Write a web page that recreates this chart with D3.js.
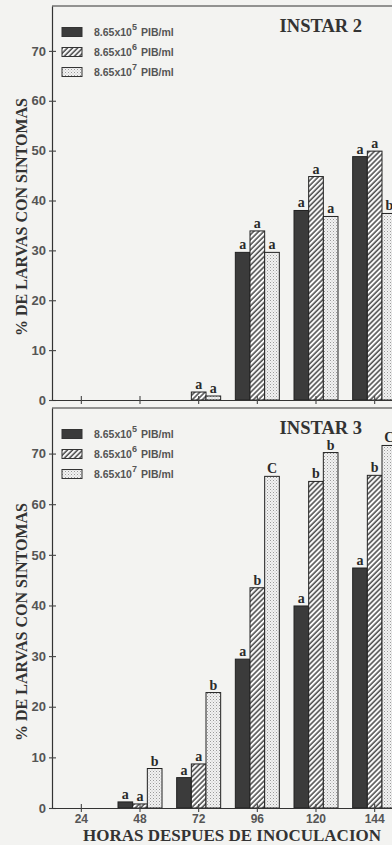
<!DOCTYPE html>
<html lang="es">
<head>
<meta charset="UTF-8">
<title>% de larvas con sintomas - instar 2 y 3</title>
<script src="https://d3js.org/d3.v7.min.js"></script>
<style>
  body { margin: 0; background: #f3f3f1; }
  svg { display: block; }
</style>
</head>
<body>
<svg width="392" height="845"></svg>
<script>
// horas despues de inoculacion
const hours = ["24", "48", "72", "96", "120", "144"];
const doseBase = "8.65x10";
const doseExp = ["5", "6", "7"];
const doseUnit = "PIB/ml";
const yTicks = [0, 10, 20, 30, 40, 50, 60, 70];

// INSTAR 2
const instar2Low = [0, 0, 0, 29.6, 38, 48.8];
const instar2Mid = [0, 0, 1.6, 33.9, 44.8, 49.9];
const instar2High = [0, 0, 0.8, 29.6, 36.8, 37.4];
const instar2LowLetters = ["", "", "", "a", "a", "a"];
const instar2MidLetters = ["", "", "a", "a", "a", "a"];
const instar2HighLetters = ["", "", "a", "a", "a", "b"];

// INSTAR 3
const instar3Low = [0, 1.2, 6, 29.4, 39.9, 47.4];
const instar3Mid = [0, 0.8, 8.7, 43.5, 64.5, 65.7];
const instar3High = [0, 7.8, 22.8, 65.5, 70.2, 71.6];
const instar3LowLetters = ["", "a", "a", "a", "a", "a"];
const instar3MidLetters = ["", "a", "a", "b", "b", "b"];
const instar3HighLetters = ["", "b", "b", "C", "b", "C"];

const svg = d3.select("svg");
const serif = "'Liberation Serif', 'DejaVu Serif', serif";
const sans = "'Liberation Sans', Arial, sans-serif";

// patterns
const defs = svg.append("defs");
defs.append("pattern")
    .attr("id", "hatch")
    .attr("patternUnits", "userSpaceOnUse")
    .attr("width", 3.6).attr("height", 3.6)
    .attr("patternTransform", "rotate(45)")
    .call(p => {
        p.append("rect").attr("width", 3.6).attr("height", 3.6).attr("fill", "#fbfbfb");
        p.append("line").attr("x1", 1).attr("x2", 1).attr("y1", 0).attr("y2", 3.6)
            .attr("stroke", "#2e2e2e").attr("stroke-width", 1.3);
    });
defs.append("pattern")
    .attr("id", "dots")
    .attr("patternUnits", "userSpaceOnUse")
    .attr("width", 3).attr("height", 3)
    .call(p => {
        p.append("rect").attr("width", 3).attr("height", 3).attr("fill", "#f2f2f2");
        p.append("rect").attr("x", 0).attr("y", 0).attr("width", 1).attr("height", 1).attr("fill", "#9a9a9a");
        p.append("rect").attr("x", 1.5).attr("y", 1.5).attr("width", 1).attr("height", 1).attr("fill", "#bdbdbd");
    });

const fills = ["#3b3b3b", "url(#hatch)", "url(#dots)"];

const x0 = d3.scaleBand().domain(hours).range([52, 404]).padding(0);
const groupW = 44;
const x1 = d3.scaleBand().domain(d3.range(3)).range([0, groupW]);

function panel(top, bottom, title, series, letters, showLabels) {
    const y = d3.scaleLinear().domain([0, 79]).range([bottom, top]);
    const g = svg.append("g");

    const rows = [];
    series.forEach((vals, k) => vals.forEach((v, i) => {
        rows.push({ hour: hours[i], k: k, value: v, letter: letters[k][i] });
    }));

    const bx = d => x0(d.hour) + (x0.bandwidth() - groupW) / 2 + x1(d.k);

    g.selectAll("rect.bar")
        .data(rows.filter(d => d.value > 0))
        .join("rect")
        .attr("class", "bar")
        .attr("x", bx)
        .attr("y", d => y(d.value))
        .attr("width", x1.bandwidth())
        .attr("height", d => y(0) - y(d.value))
        .attr("fill", d => fills[d.k])
        .attr("stroke", "#222")
        .attr("stroke-width", 1);

    g.selectAll("text.letter")
        .data(rows.filter(d => d.letter))
        .join("text")
        .attr("class", "letter")
        .attr("x", d => bx(d) + x1.bandwidth() / 2)
        .attr("y", d => y(d.value) - 3)
        .attr("text-anchor", "middle")
        .attr("font-family", serif)
        .attr("font-weight", "bold")
        .attr("font-size", 14)
        .attr("fill", "#2a2a2a")
        .text(d => d.letter);

    // frame top
    g.append("line")
        .attr("x1", 52).attr("x2", 392)
        .attr("y1", y(79)).attr("y2", y(79))
        .attr("stroke", "#333").attr("stroke-width", 1.2);

    // y axis
    const ya = g.append("g")
        .attr("transform", "translate(52,0)")
        .call(d3.axisLeft(y).tickValues(yTicks).tickSizeOuter(0).tickSizeInner(3));
    ya.select(".domain").attr("stroke", "#333").attr("stroke-width", 1.2);
    ya.selectAll(".tick line").attr("x1", -3).attr("x2", 4).attr("stroke", "#444").attr("stroke-width", 1.1);
    ya.selectAll(".tick text")
        .attr("x", -6)
        .attr("font-family", sans)
        .attr("font-weight", "bold")
        .attr("font-size", 13)
        .attr("fill", "#555");

    // x axis
    const xa = g.append("g")
        .attr("transform", `translate(0,${bottom})`)
        .call(d3.axisBottom(x0).tickSizeOuter(0).tickSizeInner(4));
    xa.select(".domain").attr("stroke", "#333").attr("stroke-width", 1.2);
    xa.selectAll(".tick line").attr("y1", -4).attr("y2", 4).attr("stroke", "#444").attr("stroke-width", 1.1);
    if (showLabels) {
        xa.selectAll(".tick text")
            .attr("y", 15).attr("dy", 0)
            .attr("font-family", sans)
            .attr("font-weight", "bold")
            .attr("font-size", 12)
            .attr("fill", "#555");
    } else {
        xa.selectAll(".tick text").remove();
    }

    // title
    g.append("text")
        .attr("x", 362).attr("y", top + 26)
        .attr("text-anchor", "end")
        .attr("font-family", serif)
        .attr("font-weight", "bold")
        .attr("font-size", 18.5)
        .attr("fill", "#333")
        .text(title);

    // y label
    g.append("text")
        .attr("transform", `translate(27,${(top + bottom) / 2 + 14}) rotate(-90)`)
        .attr("text-anchor", "middle")
        .attr("font-family", serif)
        .attr("font-weight", "bold")
        .attr("font-size", 16)
        .attr("fill", "#333")
        .text("% DE LARVAS CON SINTOMAS");

    // legend
    const lg = g.selectAll("g.leg").data(doseExp).join("g")
        .attr("class", "leg")
        .attr("transform", (d, i) => `translate(62,${top + 26 + i * 20})`);
    lg.append("rect")
        .attr("x", 0).attr("y", -4.5).attr("width", 20).attr("height", 9)
        .attr("fill", (d, i) => fills[i])
        .attr("stroke", "#333").attr("stroke-width", 1);
    const lt = lg.append("text")
        .attr("x", 32).attr("y", 4)
        .attr("font-family", sans)
        .attr("font-weight", "bold")
        .attr("font-size", 10.5)
        .attr("fill", "#555");
    lt.append("tspan").text(doseBase);
    lt.append("tspan").attr("dy", -6).attr("font-size", 9).text(d => d);
    lt.append("tspan").attr("dy", 6).attr("dx", 4).text(doseUnit);
}

panel(6, 400, "INSTAR 2",
    [instar2Low, instar2Mid, instar2High],
    [instar2LowLetters, instar2MidLetters, instar2HighLetters], false);
panel(408, 808, "INSTAR 3",
    [instar3Low, instar3Mid, instar3High],
    [instar3LowLetters, instar3MidLetters, instar3HighLetters], true);

svg.append("text")
    .attr("x", 232).attr("y", 840.5)
    .attr("text-anchor", "middle")
    .attr("font-family", serif)
    .attr("font-weight", "bold")
    .attr("font-size", 17)
    .attr("fill", "#333")
    .text("HORAS DESPUES DE INOCULACION");
</script>
</body>
</html>
